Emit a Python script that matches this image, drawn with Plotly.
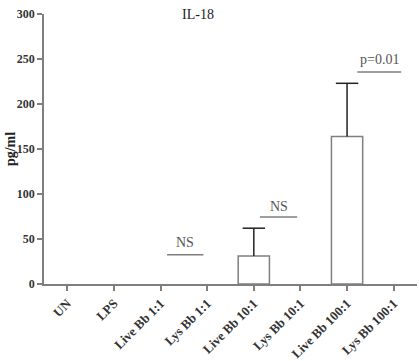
import plotly.graph_objects as go

categories = ["UN", "LPS", "Live Bb 1:1", "Lys Bb 1:1", "Live Bb 10:1",
              "Lys Bb 10:1", "Live Bb 100:1", "Lys Bb 100:1"]
means = [0, 0, 0, 0, 31, 0, 164, 0]
errors = [None, None, None, None, 31, None, 59, None]

# significance brackets
sig_x0 = [2.14, 4.13, 6.22]
sig_x1 = [2.92, 4.93, 7.16]
sig_y = [32.6, 74.4, 235.6]
sig_labels = ["NS", "NS", "p=0.01"]
sig_label_y = [46, 86, 249]

title_text = "IL-18"
y_title = "pg/ml"
y_ticks = [0, 50, 100, 150, 200, 250, 300]

FONT = "Liberation Serif"
GRAY = "#7f7f7f"
DARK = "#222222"

xs = list(range(len(categories)))

fig = go.Figure()
fig.add_trace(go.Bar(
    x=xs,
    y=means,
    width=0.67,
    marker=dict(color="white",
                line=dict(color=GRAY, width=[1.5 if v > 0 else 0 for v in means])),
    showlegend=False,
))

# upper-only error bars: stem + top cap
err_idx = [i for i, e in enumerate(errors) if e is not None]
stem_x, stem_y = [], []
for i in err_idx:
    stem_x += [xs[i], xs[i], None]
    stem_y += [means[i], means[i] + errors[i], None]
fig.add_trace(go.Scatter(
    x=stem_x, y=stem_y, mode="lines",
    line=dict(color=DARK, width=1.5),
    showlegend=False, hoverinfo="skip",
))
fig.add_trace(go.Scatter(
    x=[xs[i] for i in err_idx],
    y=[means[i] + errors[i] for i in err_idx],
    mode="markers",
    marker=dict(symbol="line-ew", size=16, line=dict(color=DARK, width=1.5)),
    showlegend=False, hoverinfo="skip",
))

shapes = []
annotations = []
for x0, x1, yv, lab, ly in zip(sig_x0, sig_x1, sig_y, sig_labels, sig_label_y):
    shapes.append(dict(type="line", xref="x", yref="y", x0=x0, x1=x1, y0=yv, y1=yv,
                       line=dict(color=GRAY, width=1.5)))
    annotations.append(dict(x=(x0 + x1) / 2, y=ly, xref="x", yref="y", text=lab,
                            showarrow=False, font=dict(family=FONT, size=14, color="#555555"),
                            xanchor="center", yanchor="middle"))

annotations.append(dict(x=0.413, y=1.0, xref="paper", yref="paper", text=title_text,
                        showarrow=False, font=dict(family=FONT, size=14, color=DARK),
                        xanchor="center", yanchor="middle"))
annotations.append(dict(x=-0.091, y=0.5, xref="paper", yref="paper", text="<b>" + y_title + "</b>",
                        showarrow=False, textangle=-90,
                        font=dict(family=FONT, size=14, color=DARK),
                        xanchor="center", yanchor="middle"))

fig.update_layout(
    template="none",
    width=419, height=361,
    margin=dict(l=44, r=2, t=14, b=77, autoexpand=False),
    paper_bgcolor="white", plot_bgcolor="white",
    font=dict(family=FONT, color=DARK),
    shapes=shapes,
    annotations=annotations,
)
fig.update_xaxes(
    range=[-0.5, 7.5], automargin=False,
    tickmode="array", tickvals=xs,
    ticktext=["<b>" + c + "</b>" for c in categories],
    tickangle=-45,
    tickfont=dict(family=FONT, size=13, color="#333333"),
    showline=True, linecolor=GRAY, linewidth=1.5,
    ticks="outside", ticklen=5, tickwidth=1.5, tickcolor=GRAY,
    showgrid=False, zeroline=False,
)
fig.update_yaxes(
    range=[0, 300], automargin=False,
    tickmode="array", tickvals=y_ticks,
    ticktext=["<b>%d</b>" % v for v in y_ticks],
    tickfont=dict(family=FONT, size=12, color="#333333"),
    showline=True, linecolor=GRAY, linewidth=1.5,
    ticks="outside", ticklen=5, tickwidth=1.5, tickcolor=GRAY,
    showgrid=False, zeroline=False,
)

fig.write_html("out.html", config={"displayModeBar": False},
               post_script="document.body.style.margin='0';")
